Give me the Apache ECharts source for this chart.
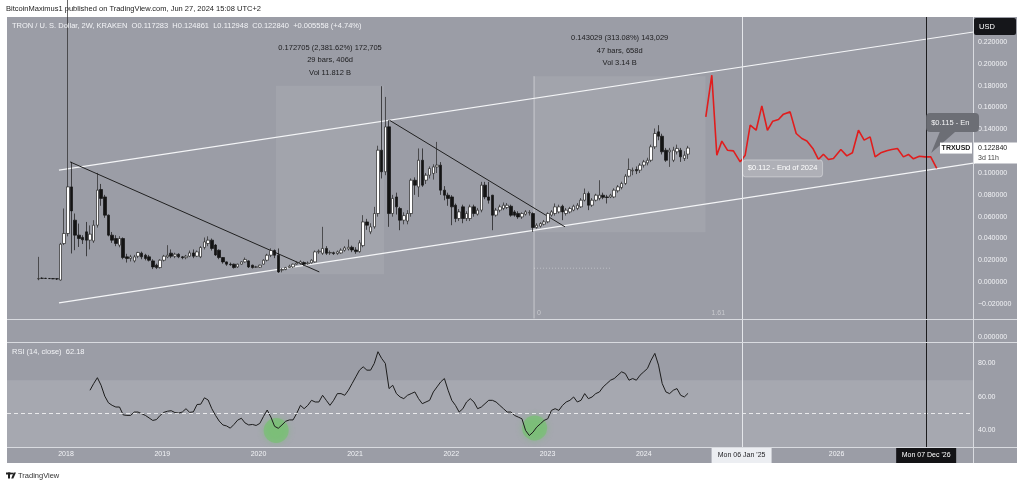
<!DOCTYPE html>
<html><head><meta charset="utf-8">
<script src="https://cdn.jsdelivr.net/npm/echarts@6/dist/echarts.min.js"></script>
<style>html,body{margin:0;padding:0;background:#fff;}#c{width:1024px;height:487px;}</style>
</head><body><div id="c"></div>
<script>
// ---------------- DATA ----------------
const candleStart = '2017-09-18';   // first 2W candle
const candleStepDays = 14;
const opens = [.0030,.0036,.0035,.0034,.0033,.0031,.0020,.0354,.0446,.0873,.0568,.0431,.0410,.0461,.0385,.0378,.0522,.0849,.0781,.0614,
.0431,.0400,.0339,.0400,.0232,.0217,.0195,.0238,.0266,.0247,.0232,.0195,.0156,.0134,.0201,.0232,.0266,.0238,.0256,.0232,
.0225,.0238,.0268,.0238,.0232,.0318,.0354,.0385,.0340,.0293,.0226,.0186,.0165,.0165,.0140,.0165,.0186,.0195,.0156,.0137,
.0137,.0165,.0201,.0247,.0290,.0247,.0110,.0116,.0134,.0140,.0165,.0171,.0180,.0168,.0177,.0186,.0278,.0265,.0309,.0268,
.0270,.0262,.0268,.0293,.0305,.0320,.0295,.0280,.0335,.0552,.0461,.0507,.0629,.1209,.1011,.1423,.0629,.0781,.0675,.0568,
.0560,.0629,.0934,.0873,.1117,.0934,.0980,.0996,.1056,.1072,.0843,.0797,.0781,.0705,.0583,.0690,.0583,.0583,.0690,.0623,
.0660,.0889,.0781,.0797,.0614,.0660,.0675,.0684,.0696,.0644,.0630,.0598,.0623,.0635,.0629,.0501,.0513,.0531,.0553,.0614,
.0629,.0644,.0696,.0629,.0644,.0660,.0675,.0690,.0751,.0812,.0705,.0751,.0767,.0797,.0781,.0781,.0781,.0837,.0867,.0904,
.0971,.1020,.1032,.1026,.1072,.1093,.1117,.1240,.1377,.1337,.1209,.1194,.1117,.1194,.1209,.1133,.117283];
const highs = [.0232,.0045,.0040,.0038,.0036,.0035,.0360,.0675,.3000,.1102,.0629,.0537,.0430,.0552,.0520,.0568,.1001,.0900,.0800,.0620,
.0460,.0430,.0421,.0410,.0260,.0250,.0250,.0278,.0280,.0260,.0250,.0210,.0170,.0210,.0250,.0339,.0300,.0270,.0265,.0240,
.0250,.0290,.0300,.0290,.0330,.0409,.0420,.0400,.0350,.0300,.0230,.0190,.0180,.0170,.0170,.0190,.0226,.0200,.0160,.0150,
.0160,.0210,.0260,.0310,.0300,.0309,.0130,.0140,.0160,.0170,.0190,.0200,.0190,.0190,.0210,.0290,.0300,.0507,.0330,.0290,
.0280,.0290,.0310,.0330,.0391,.0335,.0320,.0385,.0614,.0580,.0540,.0690,.1250,.1795,.1697,.1484,.0800,.0820,.0690,.0640,
.0660,.0950,.0960,.1225,.1225,.1000,.1060,.1080,.1285,.1100,.0880,.0820,.0797,.0720,.0670,.0710,.0650,.0710,.0710,.0680,
.0919,.0919,.0919,.0800,.0680,.0710,.0730,.0725,.0710,.0660,.0650,.0640,.0660,.0660,.0640,.0540,.0550,.0570,.0640,.0660,
.0721,.0710,.0710,.0680,.0690,.0710,.0725,.0770,.0858,.0830,.0770,.0810,.0934,.0820,.0800,.0810,.0860,.0890,.0920,.0990,
.1133,.1050,.1060,.1090,.1120,.1140,.1260,.1408,.1438,.1360,.1230,.1230,.1240,.1260,.1230,.1200,.124861];
const lows = [.0018,.0030,.0030,.0029,.0028,.0020,.0015,.0340,.0420,.0263,.0293,.0323,.0350,.0238,.0300,.0360,.0500,.0700,.0590,.0420,
.0360,.0330,.0320,.0210,.0180,.0190,.0180,.0220,.0210,.0200,.0190,.0120,.0120,.0125,.0190,.0220,.0220,.0220,.0220,.0210,
.0210,.0230,.0220,.0230,.0220,.0300,.0330,.0290,.0240,.0210,.0170,.0150,.0150,.0125,.0130,.0160,.0180,.0130,.0125,.0130,
.0130,.0160,.0190,.0230,.0220,.0085,.0090,.0110,.0130,.0130,.0160,.0160,.0150,.0160,.0170,.0180,.0260,.0250,.0250,.0250,
.0250,.0250,.0260,.0280,.0290,.0275,.0260,.0270,.0320,.0480,.0440,.0490,.0600,.0950,.0980,.0507,.0600,.0620,.0476,.0530,
.0530,.0600,.0800,.0781,.0873,.0900,.0950,.0940,.1000,.0800,.0750,.0700,.0522,.0550,.0560,.0540,.0560,.0560,.0600,.0610,
.0640,.0760,.0720,.0476,.0600,.0640,.0660,.0670,.0600,.0600,.0580,.0580,.0610,.0610,.0461,.0490,.0500,.0520,.0540,.0600,
.0610,.0630,.0568,.0610,.0630,.0650,.0660,.0680,.0740,.0660,.0690,.0740,.0750,.0760,.0721,.0770,.0770,.0820,.0850,.0890,
.0960,.0980,.0990,.1000,.1050,.1070,.1100,.1220,.1300,.1170,.1102,.1056,.1100,.1170,.1102,.1110,.112948];
const closes = [.0034,.0035,.0034,.0033,.0031,.0030,.0348,.0446,.0873,.0653,.0431,.0400,.0388,.0385,.0440,.0522,.0843,.0767,.0614,.0431,
.0385,.0355,.0400,.0226,.0217,.0232,.0232,.0272,.0232,.0217,.0201,.0140,.0134,.0201,.0238,.0247,.0238,.0256,.0232,.0225,
.0238,.0268,.0238,.0278,.0318,.0369,.0385,.0309,.0250,.0226,.0186,.0165,.0160,.0134,.0165,.0186,.0208,.0140,.0134,.0140,
.0156,.0201,.0247,.0290,.0247,.0094,.0116,.0134,.0146,.0165,.0175,.0186,.0165,.0175,.0201,.0278,.0284,.0309,.0265,.0272,
.0262,.0278,.0293,.0314,.0320,.0295,.0280,.0360,.0552,.0522,.0507,.0629,.1209,.1011,.1423,.0629,.0767,.0690,.0568,.0610,
.0629,.0934,.0889,.1117,.0889,.0980,.1041,.1056,.1072,.0843,.0797,.0767,.0690,.0583,.0644,.0583,.0629,.0690,.0629,.0660,
.0889,.0781,.0751,.0614,.0660,.0690,.0705,.0705,.0614,.0614,.0598,.0629,.0644,.0640,.0501,.0522,.0537,.0553,.0629,.0644,
.0690,.0690,.0644,.0660,.0675,.0696,.0705,.0751,.0812,.0705,.0751,.0797,.0797,.0777,.0776,.0797,.0843,.0873,.0904,.0971,
.1032,.1026,.1020,.1072,.1102,.1117,.1240,.1362,.1337,.1194,.1117,.1209,.1209,.1225,.1148,.1163,.122840];
const rsiFirstIndex = 14;
const rsiValues = [64,68,71.5,67,60.5,56.5,55,54,54,49.3,49,49,51,51,50,49,47.5,46,46.5,49,
50.8,51.5,51.8,50.7,50.4,51,53,50.8,51.1,55.5,55.7,59.5,58.2,53,49,45.6,43.3,42.7,41.4,43.6,
46.2,47.3,44.5,43.3,43.6,43,44.2,48.4,52.2,48,42.5,41.3,43.3,45.5,46.3,46.3,50.2,
55,53,55,58,57,57,61,58,55,58,62,62,61,64,68,72,76,78,76,76,80,87,83,80,65,
67,62,60,59,61,62,63,59,56,57,58,63,66,69,71,64,58,55,51,53,57,59,57,53,54,56,58,58,57,55,53,51,51,49,48,47,40,37,39,42,44,46,47,52,53,
52,55,57,58,60,57,58,62,59,60,62,63,66,68,70,71,73,75,74,
70,71,70,73,75,77,82,86,79,68,63,62,64,65,61,60,62.18];
// red projection path (fractional year, price)
const projYears = [2024.643,2024.705,2024.757,2024.809,2024.867,2024.929,2024.999,2025.051,2025.103,2025.165,2025.224,2025.282,2025.338,2025.397,2025.449,2025.518,2025.581,2025.640,2025.692,2025.754,2025.812,2025.864,2025.916,2025.968,2026.045,2026.107,2026.165,2026.228,2026.287,2026.349,2026.401,2026.460,2026.522,2026.574,2026.633,2026.695,2026.747,2026.799,2026.861,2026.920,2026.979,2027.041];
const projPrices = [.1514,.1896,.1163,.1292,.1209,.1203,.1102,.1163,.1438,.1392,.1615,.1392,.1475,.1490,.1539,.1560,.1362,.1316,.1294,.1225,.1124,.1172,.1124,.1133,.1216,.1157,.1185,.1392,.1301,.1331,.1148,.1185,.1203,.1216,.1225,.1148,.1170,.1130,.1154,.1148,.1148,.1042];
const channelUpper = [[2017.927,0.1026],[2027.5,0.2302]];
const channelLower = [[2017.927,-0.0190],[2027.5,0.1102]];
const trendLine1 = [[2018.042,0.1102],[2020.630,0.0094]];
const trendLine2 = [[2021.357,0.1484],[2023.182,0.0507]];
const rangeBox1 = {from:2020.181, to:2021.302, low:0.0073, high:0.1800, lines:['0.172705 (2,381.62%) 172,705','29 bars, 406d','Vol 11.812 B']};
const rangeBox2 = {from:2022.860, to:2024.640, low:0.0457, high:0.1887, lines:['0.143029 (313.08%) 143,029','47 bars, 658d','Vol 3.14 B']};
const fibLabels = ['0','1.61'];
const dottedLevel = {from:2022.860, to:2023.650, price:0.0128};
const rsiCircles = [['2020-03-08',40.0],['2022-11-13',41.5]];
const priceTicks = [-0.02,0,0.02,0.04,0.06,0.08,0.10,0.12,0.14,0.16,0.18,0.20,0.22];
const rsiTicks = [40,60,80];
const yearTicks = [2018,2019,2020,2021,2022,2023,2024,2026];
const markerJan25 = '2025-01-06', markerDec26 = '2026-12-07';
const markerJan25Label = "Mon 06 Jan '25", markerDec26Label = "Mon 07 Dec '26";
const note2024 = {price:0.112, text:'$0.112 - End of 2024'};
const note2026 = {text:'$0.115 - End of 2026'};
const lastClose = 0.122840, symbolName = 'TRXUSD', countdown = '3d 11h';
const headerTop = 'BitcoinMaximus1 published on TradingView.com, Jun 27, 2024 15:08 UTC+2';
const headerLegend = 'TRON / U. S. Dollar, 2W, KRAKEN  O0.117283  H0.124861  L0.112948  C0.122840  +0.005558 (+4.74%)';
const rsiLegend = 'RSI (14, close)  62.18';

// ---------------- BUILD ----------------
const DAY = 86400000;
const t0 = Date.parse(candleStart + 'T00:00:00Z');
const ct = i => t0 + i * candleStepDays * DAY;
function ym(y){const Y=Math.floor(y);const a=Date.UTC(Y,0,1),b=Date.UTC(Y+1,0,1);return a+(y-Y)*(b-a);}
const dms = s => Date.parse(s + 'T00:00:00Z');
const FONT = "'Liberation Sans', Arial, sans-serif";
const BG = '#9b9da6', LIGHT = '#a6a8b0', SEP = '#d9dbe0', TXT = '#f2f3f6';
const xMin = ym(2017.387), xMax = ym(2027.418);

const candleData = opens.map((o,i)=>[ct(i), o, closes[i], lows[i], highs[i]]);
const rsiData = rsiValues.map((v,k)=>[ct(rsiFirstIndex+k), v]);
const projData = projYears.map((y,k)=>[ym(y), projPrices[k]]);
const seg = a => a.map(p=>[ym(p[0]), p[1]]);

const grids = [
  {left:7, right:51, top:17, height:301},
  {left:7, right:51, top:321, height:21},
  {left:7, right:51, top:343, height:104}
];
const xAxes = [0,1,2].map(g=>({
  type:'value', gridIndex:g, min:xMin, max:xMax,
  axisLine:{show:false}, axisTick:{show:false}, splitLine:{show:false},
  axisLabel: g===2 ? {customValues: yearTicks.map(y=>Date.UTC(y,0,1)), formatter:v=>String(new Date(v).getUTCFullYear()),
    color:TXT, fontSize:7, fontFamily:FONT, margin:4} : {show:false}
}));
const yAxes = [
  {type:'value', gridIndex:0, position:'right', min:-0.0328, max:0.2429, axisLine:{show:false}, axisTick:{show:false}, splitLine:{show:false},
   axisLabel:{customValues:priceTicks, formatter:v=>(v<0?'\u2212':'')+Math.abs(v).toFixed(6), color:TXT, fontSize:7, fontFamily:FONT, margin:5}},
  {type:'value', gridIndex:1, position:'right', min:-0.3, max:1, axisLine:{show:false}, axisTick:{show:false}, splitLine:{show:false},
   axisLabel:{customValues:[0], formatter:v=>v.toFixed(6), color:TXT, fontSize:7, fontFamily:FONT, margin:5}},
  {type:'value', gridIndex:2, position:'right', min:30.15, max:92.2, axisLine:{show:false}, axisTick:{show:false}, splitLine:{show:false},
   axisLabel:{customValues:rsiTicks, formatter:v=>v.toFixed(2), color:TXT, fontSize:7, fontFamily:FONT, margin:5}}
];
const lineS = (data, color, width, extra) => Object.assign({type:'line', xAxisIndex:0, yAxisIndex:0, data, symbol:'none', silent:true, clip:true,
  lineStyle:{color, width}, z:3, animation:false}, extra||{});

const series = [
  {type:'line', xAxisIndex:0, yAxisIndex:0, data:[], silent:true,
   markArea:{silent:true, itemStyle:{color:'rgba(255,255,255,0.075)'}, data:[rangeBox1,rangeBox2].map(b=>[{xAxis:ym(b.from), yAxis:b.high},{xAxis:ym(b.to), yAxis:b.low}])}},
  lineS([[ym(rangeBox2.from), rangeBox2.high],[ym(rangeBox2.from), -0.05]], 'rgba(255,255,255,0.45)', 1),
  lineS([[ym(dottedLevel.from), dottedLevel.price],[ym(dottedLevel.to), dottedLevel.price]], 'rgba(255,255,255,0.35)', 1, {lineStyle:{color:'rgba(255,255,255,0.35)', width:1, type:[1,2]}}),
  lineS(seg(channelUpper), '#f4f5f7', 1.2),
  lineS(seg(channelLower), '#f4f5f7', 1.2),
  lineS(seg(trendLine1), '#202020', 1),
  lineS(seg(trendLine2), '#202020', 1),
  {type:'candlestick', xAxisIndex:0, yAxisIndex:0, data:candleData, barWidth:3, clip:true, silent:true, z:4, animation:false,
   itemStyle:{color:'#ffffff', color0:'#141414', borderColor:'#262626', borderColor0:'#141414', borderWidth:0.7}},
  lineS(projData, '#e11d1d', 1.6, {z:5}),
  {type:'line', xAxisIndex:1, yAxisIndex:1, data:[], silent:true},
  {type:'line', xAxisIndex:2, yAxisIndex:2, data:rsiData, symbol:'none', silent:true, animation:false, z:4,
   lineStyle:{color:'#1c1c1c', width:1},
   markArea:{silent:true, itemStyle:{color:LIGHT}, data:[[{yAxis:30.15},{yAxis:70}]]},
   markLine:{silent:true, symbol:'none', label:{show:false}, lineStyle:{color:'rgba(255,255,255,0.75)', type:[4,3], width:1}, data:[{yAxis:50}]}},
  {type:'scatter', xAxisIndex:2, yAxisIndex:2, silent:true, z:3, symbolSize:25, animation:false,
   itemStyle:{color:'rgba(105,200,95,0.6)', shadowBlur:6, shadowColor:'rgba(105,200,95,0.8)'},
   data:rsiCircles.map(c=>[dms(c[0]), c[1]])}
];

const chart = echarts.init(document.getElementById('c'));
chart.setOption({animation:false, backgroundColor:'#ffffff', grid:grids, xAxis:xAxes, yAxis:yAxes, series});

// ---------- overlays placed through the chart's own scales ----------
const P = (g, x, y) => chart.convertToPixel({gridIndex:g}, [x, y]);
const txt = (x, y, text, o) => Object.assign({type:'text', x, y, z:100, silent:true,
  style:Object.assign({text, fill:TXT, font:'7.5px '+FONT, verticalAlign:'middle', align:'left'}, (o||{}).style||{})}, (o||{}).el||{});
const G = [];
G.push({type:'rect', z:-20, silent:true, shape:{x:7,y:17,width:1010,height:446}, style:{fill:BG}});
[[7,319.5,1017,319.5],[7,342.5,1017,342.5],[7,447.5,1017,447.5],[973.5,17,973.5,463]].forEach(l=>
  G.push({type:'line', z:50, silent:true, shape:{x1:l[0],y1:l[1],x2:l[2],y2:l[3]}, style:{stroke:SEP, lineWidth:1}}));
G.push(txt(6, 9, headerTop, {style:{fill:'#222', font:'7.5px '+FONT}}));
G.push(txt(12, 26, headerLegend, {style:{font:'7.5px '+FONT}}));
G.push(txt(12, 352, rsiLegend, {style:{font:'7.5px '+FONT}}));
[rangeBox1, rangeBox2].forEach(b=>{
  const top = P(0, ym((b.from+b.to)/2), b.high);
  b.lines.forEach((s,k)=>G.push(txt(top[0], top[1]-38+k*12.5, s, {style:{fill:'#1d1d1f', align:'center', font:'7.5px '+FONT}})));
});
const fx0 = P(0, ym(rangeBox2.from), 0)[0], fx1 = P(0, ym(rangeBox2.to), 0)[0];
G.push(txt(fx0+3, 313, fibLabels[0], {style:{fill:'rgba(255,255,255,0.45)', font:'7px '+FONT}}));
G.push(txt(fx1+6, 313, fibLabels[1], {style:{fill:'rgba(255,255,255,0.45)', font:'7px '+FONT}}));
const xJan = P(0, dms(markerJan25), 0)[0], xDec = P(0, dms(markerDec26), 0)[0];
G.push({type:'line', z:6, silent:true, shape:{x1:Math.round(xJan)+0.5,y1:17,x2:Math.round(xJan)+0.5,y2:447}, style:{stroke:'#e4e6ea', lineWidth:1}});
G.push({type:'line', z:6, silent:true, shape:{x1:Math.round(xDec)+0.5,y1:17,x2:Math.round(xDec)+0.5,y2:447}, style:{stroke:'#1c1c1e', lineWidth:1}});
G.push({type:'rect', z:60, silent:true, shape:{x:xJan-30,y:448,width:60,height:15}, style:{fill:'#eceef2'}});
G.push(txt(xJan, 455.5, markerJan25Label, {style:{fill:'#1e1e22', align:'center', font:'7px '+FONT}}));
G.push({type:'rect', z:60, silent:true, shape:{x:xDec-30,y:448,width:60,height:15}, style:{fill:'#131316'}});
G.push(txt(xDec, 455.5, markerDec26Label, {style:{fill:'#ffffff', align:'center', font:'7px '+FONT}}));
const n1 = P(0, dms(markerJan25), note2024.price);
G.push({type:'rect', z:60, silent:true, shape:{x:n1[0]+1, y:n1[1], width:80, height:17, r:3}, style:{fill:'rgba(255,255,255,0.2)', stroke:'rgba(255,255,255,0.35)', lineWidth:1}});
G.push(txt(n1[0]+41, n1[1]+8.5, note2024.text, {style:{fill:'#ffffff', align:'center', font:'7.5px '+FONT}}));
const gridRight = P(0, xMax, 0)[0];
G.push({type:'polygon', z:58, silent:true, shape:{points:[[xDec+5,153],[xDec+14,131],[xDec+30,131]]}, style:{fill:'#6c6e75'}});
G.push({type:'rect', z:59, silent:true, shape:{x:xDec, y:113, width:gridRight-xDec+6, height:19, r:4}, style:{fill:'#6c6e75'}});
G.push(txt(xDec+5, 122.5, note2026.text, {style:{fill:'#f4f4f6', font:'7.5px '+FONT, width:gridRight-xDec-5, overflow:'truncate', ellipsis:''}}));
const lp = P(0, xMax, lastClose);
G.push({type:'rect', z:61, silent:true, shape:{x:lp[0]-33, y:lp[1]-5.5, width:32, height:11}, style:{fill:'#ffffff'}});
G.push(txt(lp[0]-17, lp[1], symbolName, {el:{z:62}, style:{fill:'#1a1a1a', align:'center', font:'bold 7px '+FONT}}));
G.push({type:'rect', z:61, silent:true, shape:{x:lp[0]+1, y:lp[1]-5.5, width:43, height:21}, style:{fill:'#ffffff'}});
G.push(txt(lp[0]+5, lp[1], lastClose.toFixed(6), {el:{z:62}, style:{fill:'#1a1a1a', font:'7px '+FONT}}));
G.push(txt(lp[0]+5, lp[1]+10, countdown, {el:{z:62}, style:{fill:'#444', font:'7px '+FONT}}));
G.push({type:'rect', z:61, silent:true, shape:{x:974, y:18, width:42, height:17, r:2}, style:{fill:'#15161a'}});
G.push(txt(979, 26.5, 'USD', {el:{z:62}, style:{fill:'#ffffff', font:'7.5px '+FONT}}));
G.push({type:'rect', z:10, silent:true, shape:{x:6,y:472.5,width:5,height:2}, style:{fill:'#222'}});
G.push({type:'rect', z:10, silent:true, shape:{x:8,y:472.5,width:2,height:6}, style:{fill:'#222'}});
G.push({type:'circle', z:10, silent:true, shape:{cx:12,cy:473.5,r:1.1}, style:{fill:'#222'}});
G.push({type:'polygon', z:10, silent:true, shape:{points:[[13.6,472.5],[16,472.5],[13.3,478.5],[11.2,478.5]]}, style:{fill:'#222'}});
G.push(txt(18, 476, 'TradingView', {style:{fill:'#333', font:'7.5px '+FONT}}));
chart.setOption({graphic:G});
</script>
</body></html>
